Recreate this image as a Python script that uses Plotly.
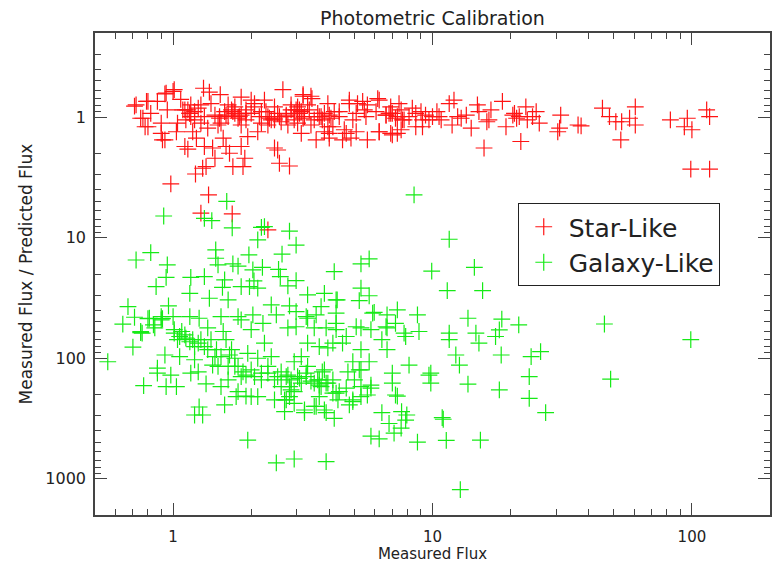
import plotly.graph_objects as go
import math

# ---------------- data ----------------
star_x = [0.72, 0.80, 0.87, 0.93, 1.01, 1.07, 1.31, 1.38, 1.52, 1.83, 2.0, 2.25, 2.65, 3.17, 3.43, 3.95,
          0.75, 0.82, 0.78, 0.90, 0.95, 1.04, 1.03, 0.90, 0.93, 1.14, 1.21, 1.19, 1.23, 1.11, 1.14, 1.36,
          1.32, 1.42, 1.45, 1.56, 1.60, 1.65, 1.83, 1.89, 1.70, 1.86, 1.34, 1.30, 1.22, 0.98, 1.37, 1.28,
          1.69, 2.32, 2.57, 2.81, 2.46, 2.53, 3.12, 3.56, 4.0, 2.32, 1.94, 2.12,
          1.11, 1.16, 1.21, 1.25, 1.17, 1.32, 1.45, 1.51, 1.58, 1.63, 1.68, 1.73, 1.78, 1.83, 1.91, 2.0,
          2.06, 2.15, 2.19, 2.32, 2.39, 2.46, 2.53, 2.61, 2.73, 2.85, 2.93, 3.02, 3.12, 3.21, 3.35, 3.50,
          3.72, 3.83, 4.06, 4.18, 1.40, 1.63, 2.06, 2.85, 3.30, 2.46, 1.73, 1.28, 1.17, 1.49, 1.83, 2.19,
          2.77, 3.02, 3.40, 3.95, 1.12, 1.28, 1.53, 1.91, 2.28, 2.93, 3.61,
          1.09, 1.16, 1.51, 1.60, 1.70, 1.80, 1.91, 2.35, 2.46, 2.57, 2.98, 3.07, 3.17, 3.66, 3.76, 4.0,
          4.37, 5.08, 5.54, 6.06, 6.80, 7.2, 7.66, 8.12, 8.62, 6.9, 7.43, 4.78, 5.38, 4.85, 6.9, 4.57, 4.0,
          4.78, 5.14, 5.46, 5.61, 6.15, 4.37, 4.93, 4.65, 5.08, 5.61, 6.23, 6.62, 7.0, 4.13, 4.50, 3.83,
          7.32, 3.17, 3.40, 2.73, 3.07, 0.71, 0.79, 0.765, 0.80, 0.91, 0.94, 1.0,
          6.23, 6.23, 7.0, 7.57, 8.36, 8.62, 9.03, 9.69, 10.4, 10.8, 11.6, 12.1, 11.9, 12.9, 14.1, 14.9,
          15.1, 16.2, 16.8, 15.8, 18.6, 19.2, 20.7, 21.6, 22.9, 23.2, 25.1, 25.8, 21.9, 31.2, 30.9, 30.4,
          36.4, 37.4, 45.2, 48.1, 50.9, 53.6, 57.5, 60.5, 60.5, 53.2, 82.6, 93.5, 96.0, 100, 114, 117,
          99, 117, 6.62, 6.90, 7.32, 7.77, 7.57, 9.15, 10.0, 9.15, 9.4, 10.6, 12.5, 13.5, 16.5, 20.4,
          24.3, 21.1]
star_y = [0.79, 0.74, 0.74, 0.64, 0.59, 0.71, 0.575, 0.62, 0.65, 0.68, 0.72, 0.72, 0.59, 0.65, 0.70, 0.77,
          1.02, 0.93, 1.2, 1.12, 0.87, 1.12, 1.32, 1.36, 1.54, 0.87, 1.05, 1.32, 1.49, 1.75, 1.84, 1.23,
          1.75, 1.80, 2.19, 1.49, 1.75, 1.99, 1.75, 2.19, 2.57, 2.57, 2.57, 2.65, 2.96, 3.57, 4.41, 6.26,
          6.35, 8.62, 2.41, 2.54, 1.80, 1.87, 1.36, 1.54, 1.49, 1.16, 1.45, 1.32,
          0.87, 0.93, 0.90, 0.84, 0.99, 0.99, 0.96, 1.02, 0.90, 0.99, 0.87, 0.93, 1.02, 0.96, 0.87, 0.93,
          0.82, 0.99, 0.90, 0.99, 1.05, 1.02, 0.93, 1.09, 0.99, 0.87, 0.93, 0.82, 0.90, 0.99, 0.87, 1.05,
          0.99, 0.93, 1.02, 0.90, 0.77, 0.79, 0.77, 0.79, 0.79, 0.82, 0.82, 0.79, 0.79, 1.16, 1.16, 1.12,
          1.16, 1.12, 1.16, 1.2, 1.05, 1.12, 1.12, 1.05, 0.90, 1.05, 0.93,
          0.87, 0.93, 0.99, 0.96, 0.90, 0.99, 0.93, 1.02, 1.05, 0.99, 0.87, 0.93, 1.02, 0.99, 1.05, 0.96,
          0.90, 0.93, 0.99, 0.90, 0.93, 1.02, 1.05, 0.99, 0.93, 0.82, 0.77, 0.77, 0.74, 1.49, 1.36, 1.27, 1.36,
          0.72, 0.77, 0.87, 0.79, 0.70, 0.99, 1.05, 1.36, 1.32, 1.54, 1.32, 0.96, 0.93, 1.2, 1.54, 1.32,
          1.36, 0.67, 0.67, 0.96, 0.87, 0.81, 0.74, 1.02, 1.2, 1.54, 0.63, 0.61,
          0.72, 1.32, 1.40, 1.27, 0.84, 1.2, 0.90, 1.05, 0.90, 1.05, 0.77, 0.72, 1.16, 1.02, 1.23, 0.79,
          0.90, 1.09, 0.87, 1.80, 0.74, 1.2, 0.93, 0.99, 0.82, 1.05, 0.90, 1.12, 1.59, 0.96, 1.23, 1.32,
          1.16, 1.18, 0.84, 0.99, 1.09, 1.09, 1.02, 0.82, 1.16, 1.54, 1.05, 1.2, 1.02, 1.27, 0.87, 0.99,
          2.70, 2.70, 0.96, 0.93, 0.99, 1.05, 0.87, 1.05, 0.99, 1.2, 0.96, 0.99, 0.99, 0.96, 1.05, 0.96,
          0.99, 1.02]

gal_x = [0.92, 1.61, 1.41, 1.32, 1.69, 2.12, 2.19, 2.81, 2.98, 8.49, 0.82, 0.72, 0.95, 0.94, 0.86, 1.46,
         1.46, 1.49, 1.70, 1.78, 1.96, 2.03, 2.21, 2.63, 2.55, 2.59, 2.98, 2.77, 2.05, 1.97, 2.12, 1.83,
         1.58, 1.55, 1.32, 1.17, 1.38, 1.63, 1.16, 3.30, 3.83, 4.25, 3.72, 4.18, 5.30, 5.70, 5.30, 5.70,
         2.50, 2.98, 0.67, 0.71, 0.64, 0.75, 0.81, 0.90, 0.96, 1.0, 1.16, 1.26, 1.53, 1.78, 2.03, 2.22,
         2.39, 2.81, 3.26, 3.56, 4.25, 4.25, 5.08, 5.88, 6.68, 7.32, 6.62, 7.77, 8.75, 2.25,
         0.56, 0.70, 0.75, 0.80, 0.85, 0.90, 0.93, 0.87, 0.87, 0.98, 0.77, 0.94, 1.03, 1.17, 1.25, 1.34,
         1.58, 1.26, 1.21, 1.30, 1.01, 1.08, 1.12, 1.04, 1.19, 1.25, 1.32, 1.36, 1.40, 1.47, 1.56, 1.60,
         1.68, 1.73, 1.42, 1.49, 1.63, 1.78, 1.83, 2.0, 1.94, 2.12, 2.25, 2.32, 2.39, 2.19, 2.53, 2.77,
         3.02, 2.61, 2.85, 2.73, 2.93, 3.21, 3.50, 3.83, 3.95, 3.61, 3.30, 2.93, 2.0, 1.78, 2.12, 1.53,
         1.63, 1.21, 1.06, 3.12, 3.83, 3.30, 3.95, 3.30, 3.50, 2.98, 2.77, 2.0, 1.83,
         1.01, 1.06, 1.11, 1.16, 1.21, 1.28, 1.36, 1.45, 1.53, 1.65, 1.73, 1.86, 1.91, 2.06, 2.19, 2.32,
         2.46, 2.61, 2.85, 3.12, 3.40, 3.72,
         9.93, 14.5, 11.4, 15.6, 4.29, 5.22, 5.96, 13.7, 18.5, 21.5, 18.1, 17.5, 14.7, 15.1, 11.6, 11.6,
         8.87, 7.88, 7.2, 6.68, 6.38, 6.68, 5.79, 5.30, 4.65, 4.25, 3.89, 3.66, 4.13, 4.50, 5.30, 5.70,
         4.93, 4.72, 5.22, 5.0, 5.79, 5.61, 5.30, 4.93, 7.0, 7.0, 8.12, 7.2, 6.38, 7.6, 7.96, 9.85,
         9.85, 10.9, 12.3, 12.7, 13.7, 18.4, 18.1, 24.0, 26.1, 23.6, 23.6, 27.3, 4.13, 4.37, 3.66, 3.26,
         3.50, 3.66, 4.13, 3.56, 3.89, 4.78,
         11.6, 46, 99, 48.6, 11, 11.3, 15.3, 12.8,
         1.94, 2.50, 2.93, 3.89, 5.79, 6.23, 6.8, 7.57, 7.88, 7.11, 8.75, 7.32, 9.69, 5.79, 4.93, 4.25,
         4.32, 4.18, 2.69, 3.21, 2.46, 2.69, 1.91, 1.75, 2.73, 3.07, 3.26, 3.76, 3.89, 3.66, 2.81, 2.93,
         2.81, 4.65, 5.30, 5.30, 0.76, 0.84, 0.91]
gal_y = [6.6, 5.0, 7.2, 6.9, 8.3, 10.4, 8.2, 8.8, 11.5, 4.41, 13.3, 15.3, 16.8, 21.3, 25.5, 12.6,
         14.8, 16.8, 16.5, 17.2, 13.9, 18.5, 17.6, 13.7, 18.3, 21.0, 22.7, 25.1, 22.8, 25.5, 26.2, 25.5,
         22.4, 25.8, 21.0, 21.3, 31.8, 32.8, 29.0, 29.8, 29.0, 32.8, 37.3, 19.1, 16.5, 15.0, 26.2, 30.3,
         43.7, 41.1, 37.3, 45.7, 52.1, 61.4, 46.6, 45.1, 36.8, 45.1, 45.1, 46.6, 45.1, 45.1, 43.7, 51.3,
         36.1, 36.8, 45.1, 43.7, 42.3, 51.3, 54.8, 42.3, 43.7, 39.7, 54.8, 62.0, 43.7, 8.1,
         107, 81, 60, 47, 56, 48, 94, 121, 133, 138, 169, 172, 172, 133, 130, 163,
         244, 254, 296, 296, 58, 60, 68, 70, 70, 75, 80, 56, 70, 85, 60, 70,
         85, 100, 114, 117, 117, 117, 142, 125, 91, 100, 75, 117, 97, 151, 142, 138,
         142, 172, 183, 222, 237, 269, 251, 269, 161, 151, 117, 107, 208, 189, 208, 172,
         151, 103, 97, 97, 125, 46.6, 82, 75, 56, 54.8, 56, 58, 48,
         62, 66, 64, 73, 80, 70, 85, 97, 97, 94, 117, 130, 138, 142, 133, 133,
         151, 130, 151, 161, 155, 172,
         18.9, 17.6, 27.5, 27.5, 32.8, 33.3, 41.6, 46.6, 47.4, 52.9, 58.2, 66, 62, 75, 62, 70,
         60, 66, 51.3, 56, 70, 85, 58, 56, 66, 58, 56, 80, 75, 75, 85, 107,
         107, 130, 125, 151, 167, 202, 208, 229, 133, 161, 114, 202, 283, 277, 296, 133,
         161, 311, 94, 114, 164, 94, 183, 97, 88, 142, 215, 283, 151, 189, 151, 142,
         161, 208, 195, 251, 283, 244,
         10.3, 52, 70, 149, 321, 480, 478, 1230,
         478, 738, 686, 722, 443, 467, 348, 380, 326, 418, 497, 206, 138, 177, 222, 195,
         222, 316, 277, 283, 222, 222, 206, 208, 142, 147, 133, 130, 161, 167, 172, 189,
         208, 177, 172, 125, 62, 52.9, 47]

x_tick_vals = [1, 10, 100]
x_tick_text = ["1", "10", "100"]
y_tick_vals = [1, 10, 100, 1000]
y_tick_text = ["1", "10", "100", "1000"]
x_minor_vals = [0.6, 0.7, 0.8, 0.9] + [m * d for d in (1, 10, 100) for m in range(2, 10)]
y_minor_vals = [0.3, 0.4, 0.5, 0.6, 0.7, 0.8, 0.9] + [m * d for d in (1, 10, 100, 1000) for m in range(2, 10)]

FONT = "DejaVu Sans"
AX = "#444444"
TXT = "#222222"

fig = go.Figure()
fig.add_trace(go.Scatter(
    x=star_x, y=star_y, mode="markers", name="Star-Like",
    marker=dict(symbol="cross-thin-open", size=12, color="#ff1414",
                line=dict(color="#ff1414", width=1.2))))
fig.add_trace(go.Scatter(
    x=gal_x, y=gal_y, mode="markers", name="Galaxy-Like",
    marker=dict(symbol="cross-thin-open", size=12, color="#16ea16",
                line=dict(color="#16ea16", width=1.2))))

common = dict(
    type="log", showgrid=False, zeroline=False, showline=True, linecolor=AX, linewidth=1.5,
    mirror="ticks", ticks="inside", ticklen=12, tickwidth=1, tickcolor=AX,
    tickmode="array",
)

fig.update_layout(
    width=773, height=563,
    margin=dict(l=95, r=1, t=33, b=48),
    paper_bgcolor="white", plot_bgcolor="white",
    font=dict(family=FONT, color=TXT),
    title=dict(text="Photometric Calibration", x=0.5, xref="paper", xanchor="center",
               y=1 - 18 / 563, yref="container", yanchor="middle",
               font=dict(family=FONT, size=19, color=TXT)),
    xaxis=dict(common, range=[math.log10(0.5), math.log10(200)],
               tickvals=x_tick_vals, ticktext=x_tick_text, ticklabelstandoff=7,
               tickfont=dict(family=FONT, size=15, color=TXT),
               minor=dict(tickmode="array", tickvals=x_minor_vals, ticks="inside",
                          ticklen=6, tickcolor=AX, showgrid=False),
               title=dict(text="Measured Flux", standoff=3,
                          font=dict(family=FONT, size=15, color=TXT))),
    yaxis=dict(common, range=[math.log10(2000), math.log10(0.2)],
               tickvals=y_tick_vals, ticktext=y_tick_text, ticklabelstandoff=4,
               tickfont=dict(family=FONT, size=16, color=TXT),
               minor=dict(tickmode="array", tickvals=y_minor_vals, ticks="inside",
                          ticklen=6, tickcolor=AX, showgrid=False),
               title=dict(text="Measured Flux / Predicted Flux", standoff=8,
                          font=dict(family=FONT, size=17, color=TXT))),
    legend=dict(x=(519 - 95) / 677, y=(515 - 203) / 482, xanchor="left", yanchor="top",
                bgcolor="white", bordercolor="#222222", borderwidth=1, itemwidth=40,
                font=dict(family=FONT, size=25, color=TXT), tracegroupgap=0),
    showlegend=True,
)

fig.write_html("out.html")
